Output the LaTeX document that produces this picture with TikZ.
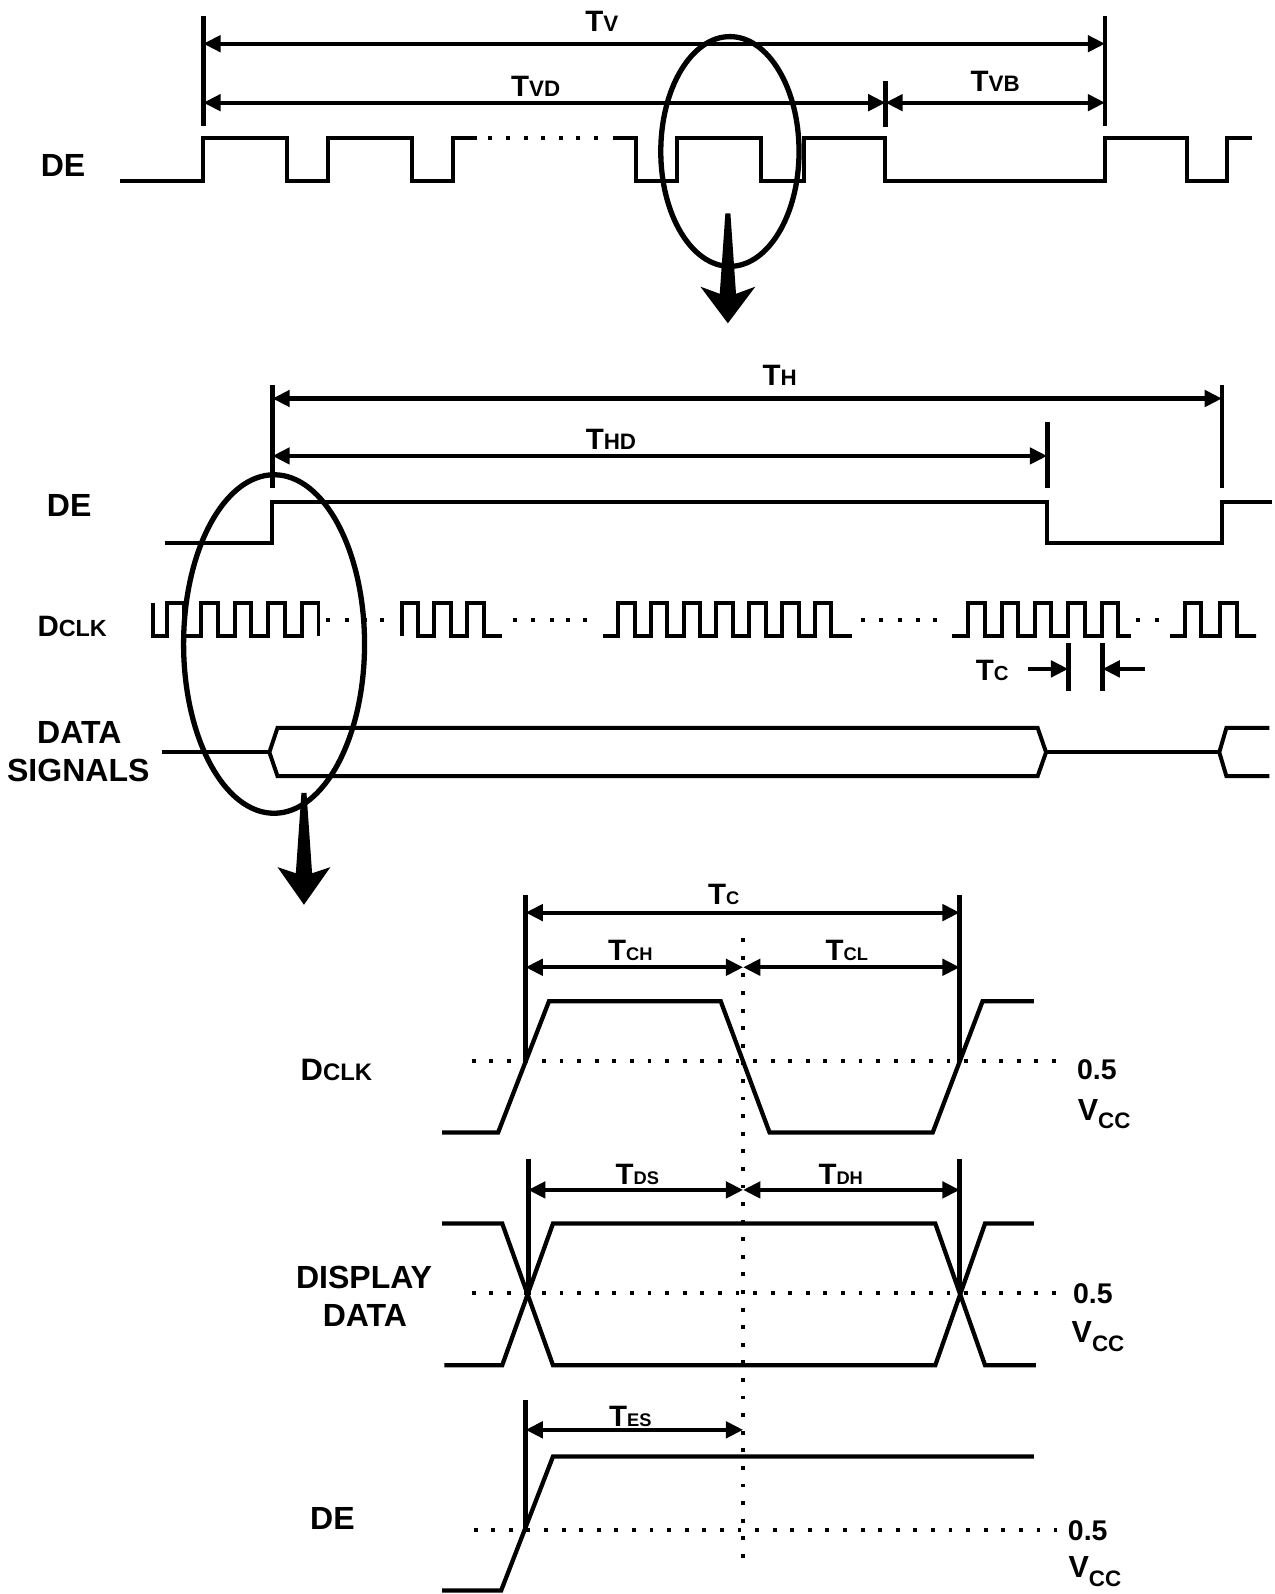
\documentclass[tikz,border=0pt]{standalone}
\usepackage{fontspec}
\setmainfont{Liberation Sans}
\usetikzlibrary{arrows.meta}
\newcommand{\smtxt}[2]{{\fontsize{#1}{#1}\selectfont #2}}
\newcommand{\vccl}{V\raisebox{-8.5pt}{\smtxt{22}{CC}}}
\tikzset{
  sig/.style={line width=3.9pt, line join=miter},
  sigb/.style={line width=4.2pt, line join=miter},
  dimarr/.style={line width=4pt, {Triangle[length=17pt,width=16pt]}-{Triangle[length=17pt,width=16pt]}},
  dimr/.style={line width=4pt, -{Triangle[length=17pt,width=16pt]}},
  mk/.style={line width=4.8pt},
  ell/.style={line width=5.2pt},
  dotl/.style={line width=3.8pt, dash pattern=on 3.8pt off 13.5pt},
  lab/.style={inner sep=0pt, anchor=base, font=\bfseries\fontsize{31.5}{33}\selectfont},
  tl/.style={inner sep=0pt, anchor=base, font=\bfseries\fontsize{29}{30}\selectfont},
  num/.style={inner sep=0pt, anchor=base, font=\bfseries\fontsize{28}{29}\selectfont},
  vcc/.style={inner sep=0pt, anchor=base west, font=\bfseries\fontsize{30}{31}\selectfont},
}
\begin{document}
\begin{tikzpicture}[x=1pt,y=-1pt]
\useasboundingbox (0,0) rectangle (1254,1568);
\fill[white] (0,0) rectangle (1254,1568);

% ================= TOP SECTION =================
\coordinate (tvL) at (200,43);   \coordinate (tvR) at (1087,43);
\coordinate (tvdL) at (200,101); \coordinate (tvdR) at (871,101);
\coordinate (tvbR) at (1087,101);
\draw[mk] (200,16) -- (200,124);
\draw[mk] (1087,16) -- (1087,124);
\draw[mk] (871,80) -- (871,125);
\draw[dimarr] (tvL) -- (tvR);
\draw[dimarr] (tvdL) -- (tvdR);
\draw[dimarr] (tvdR) -- (tvbR);
\node[tl] (tv) at (592,31) {T\smtxt{22}{V}};
\node[tl] (tvd) at (527,95) {T\smtxt{22}{VD}};
\node[tl] (tvb) at (979,90) {T\smtxt{22}{VB}};
\node[lab] (de1) at (62,174) {DE};

\draw[sig] (118,178) -- (200,178) -- (200,136) -- (282,136) -- (282,178) -- (323,178) -- (323,136)
  -- (405,136) -- (405,178) -- (446,178) -- (446,136) -- (469,136);
\foreach \x in {482,500,517,534.4,551.5,568.8,586}
  \fill (\x,136) +(-2,-2) rectangle +(2,2);
\draw[sig] (602.6,136) -- (626,136) -- (626,178) -- (666,178) -- (666,136) -- (749,136) -- (749,178)
  -- (791,178) -- (791,136) -- (871,136) -- (871,178) -- (1087,178) -- (1087,136) -- (1168,136)
  -- (1168,178) -- (1207,178) -- (1207,136) -- (1232,136);

\draw[ell] (718,149) ellipse [x radius=68, y radius=113];
\fill (713.5,210) -- (718.5,210) -- (724,289) -- (743,282) -- (716,318) -- (689,282) -- (708,289) -- cycle;

% ================= MIDDLE SECTION =================
\coordinate (thL) at (268,392);  \coordinate (thR) at (1202,392);
\coordinate (thdL) at (268,448.5); \coordinate (thdR) at (1030,448.5);
\draw[mk] (268,379) -- (268,480);
\draw[mk] (1030,415) -- (1030,480);
\draw[mk] (1202,379) -- (1202,480);
\draw[dimarr] (thL) -- (thR);
\draw[dimarr] (thdL) -- (thdR);
\node[tl] (th) at (767,379) {T\smtxt{22}{H}};
\node[tl] (thd) at (601,442) {T\smtxt{22}{HD}};

\node[lab] (de2) at (68,508.5) {DE};
\draw[sig] (162,534) -- (268,534) -- (268,493.5) -- (1030,493.5) -- (1030,534) -- (1202,534)
  -- (1202,493.5) -- (1251,493.5);

\node[tl] (dclk2) at (71,626) {D\smtxt{23}{CLK}};
% clock groups
\draw[sig] (150.5,593.5) -- (150.5,626) -- (164.6,626)
  \foreach \k in {1,...,4}{ -- ++(0,-32.5) -- ++(16.3,0) -- ++(0,32.5) -- ++(16.8,0)}
  -- ++(0,-32.5) -- ++(16.3,0) -- ++(0,32.5);
\draw[sig] (395,626)
  \foreach \k in {1,2,3}{ -- ++(0,-32.5) -- ++(16.3,0) -- ++(0,32.5) -- ++(15.9,0)} -- ++(2,0);
\draw[sig] (593.4,626) -- (608,626)
  \foreach \k in {1,...,7}{ -- ++(0,-32.5) -- ++(16.3,0) -- ++(0,32.5) -- ++(15.95,0)} -- ++(4,0);
\draw[sig] (936,626) -- (952.4,626)
  \foreach \k in {1,...,4}{ -- ++(0,-32.5) -- ++(16.3,0) -- ++(0,32.5) -- ++(16.5,0)}
  -- ++(0,-32.5) -- ++(16.3,0) -- ++(0,32.5) -- ++(13,0);
\draw[sig] (1150.8,626) -- (1165.5,626)
  \foreach \k in {1,2}{ -- ++(0,-32.5) -- ++(16.3,0) -- ++(0,32.5) -- ++(18.7,0)} -- ++(-6.5,0);
\foreach \x in {323,341,359,375.4,506.5,524.6,542.6,559,575.4,849,867,885,903,920,1119.6,1137.7}
  \fill (\x,610) +(-2,-2) rectangle +(2,2);

% Tc marker
\coordinate (tcA) at (1050.8,658); \coordinate (tcB) at (1084.5,658);
\coordinate (tcAs) at (1011.6,658); \coordinate (tcBs) at (1126,658);
\draw[mk] (1050.8,632.6) -- (1050.8,680);
\draw[mk] (1084.5,632.6) -- (1084.5,680);
\draw[dimr] (tcAs) -- (tcA);
\draw[dimr] (tcBs) -- (tcB);
\node[tl] (tc2) at (976,669) {T\smtxt{20}{C}};

% data signals
\node[lab] (data1) at (78,731) {DATA};
\node[lab] (sig1) at (77,769) {SIGNALS};
\draw[sig] (159,740) -- (265,740);
\draw[sig] (265,740) -- (273,716) -- (1020.7,716) -- (1029,740) -- (1020.7,763.5) -- (273,763.5) -- cycle;
\draw[sig] (1029,740) -- (1199.4,740);
\draw[sig] (1248.6,716) -- (1206.4,716) -- (1199.4,740) -- (1206.4,763.5) -- (1248.6,763.5);

\draw[ell] (269.6,633.5) ellipse [x radius=89, y radius=166.5];
\fill (296.5,780) -- (301.5,780) -- (307,859) -- (325,853) -- (299,890) -- (273,853) -- (291,859) -- cycle;

% ================= BOTTOM SECTION =================
% dotted guides
\draw[dotl] (731,923) -- (731,1533);
\draw[dotl] (464,1044) -- (1040,1044);
\draw[dotl] (464,1272) -- (1040,1272);
\draw[dotl] (466,1505) -- (1040,1505);

% DCLK
\coordinate (tcL) at (517,897.7); \coordinate (tcR) at (944,897.7);
\coordinate (tchL) at (517,951.5); \coordinate (tchR) at (731,951.5); \coordinate (tclR) at (944,951.5);
\draw[mk] (517,880) -- (517,1045);
\draw[mk] (944,880) -- (944,1045);
\draw[dimarr] (tcL) -- (tcR);
\draw[dimarr] (tchL) -- (tchR);
\draw[dimarr] (tchR) -- (tclR);
\node[tl] (tc3) at (712,890) {T\smtxt{18}{C}};
\node[tl] (tch) at (620,945) {T\smtxt{18}{CH}};
\node[tl] (tcl) at (833,945) {T\smtxt{18}{CL}};
\node[tl,font=\bfseries\fontsize{30.5}{32}\selectfont] (dclk3) at (331,1063) {D\smtxt{23.5}{CLK}};
\draw[sigb] (435,1114) -- (490,1114) -- (540,985) -- (709,985) -- (757,1114) -- (917.5,1114) -- (966.5,985) -- (1017,985);
\node[num] (h1) at (1079,1062) {0.5};
\node[vcc] (v1) at (1060,1102) {\vccl};

% DISPLAY DATA
\coordinate (tdsL) at (519.5,1170.5); \coordinate (tdsR) at (731,1170.5); \coordinate (tdhR) at (944,1170.5);
\draw[mk] (519.5,1140) -- (519.5,1274);
\draw[mk] (944,1140) -- (944,1271);
\draw[dimarr] (tdsL) -- (tdsR);
\draw[dimarr] (tdsR) -- (tdhR);
\node[tl] (tds) at (627,1165.6) {T\smtxt{18}{DS}};
\node[tl] (tdh) at (827,1165.6) {T\smtxt{18}{DH}};
\node[lab] (disp) at (358,1267) {DISPLAY};
\node[lab] (data2) at (359,1305) {DATA};
\draw[sigb] (435,1203.5) -- (494,1203.5) -- (544,1343) -- (920,1343) -- (969,1203.5) -- (1017,1203.5);
\draw[sigb] (437,1343) -- (494,1343) -- (544,1203.5) -- (920,1203.5) -- (969,1343) -- (1019,1343);
\node[num] (h2) at (1075,1282) {0.5};
\node[vcc] (v2) at (1054,1321) {\vccl};

% DE
\coordinate (tesL) at (517,1406.5); \coordinate (tesR) at (731,1406.5);
\draw[mk] (517,1377) -- (517,1505);
\draw[dimarr] (tesL) -- (tesR);
\node[tl] (tes) at (620,1403) {T\smtxt{18}{ES}};
\node[lab] (de3) at (327,1505) {DE};
\draw[sigb] (435,1564.5) -- (493,1564.5) -- (544,1432.7) -- (1017,1432.7);
\node[num] (h3) at (1070,1515) {0.5};
\node[vcc] (v3) at (1051,1552) {\vccl};
\end{tikzpicture}
\end{document}
